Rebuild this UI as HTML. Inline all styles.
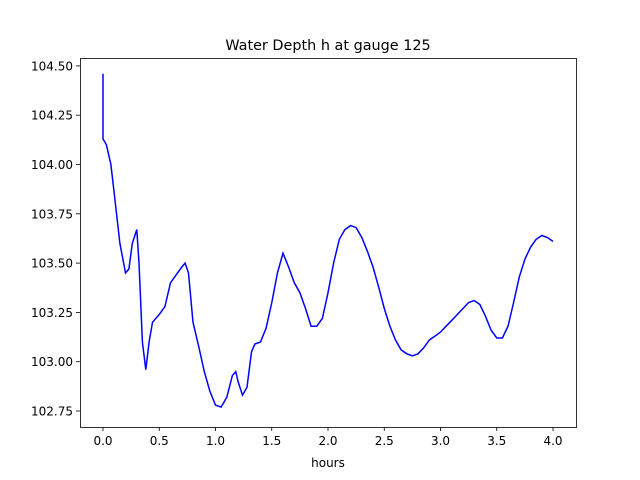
<!DOCTYPE html>
<html><head><meta charset="utf-8"><style>body{margin:0;background:#fff}svg{display:block;font-family:"DejaVu Sans","Liberation Sans",sans-serif}</style></head>
<body>
<svg id="chart" width="640" height="480">
<rect x="0" y="0" width="640" height="480" fill="#fff"/>
<text x="328" y="50" text-anchor="middle" font-size="14.4">Water Depth h at gauge 125</text>
<text x="328" y="467" text-anchor="middle" font-size="12">hours</text>
<g id="ticks"></g>
<path id="line" fill="none" stroke="#0000ff" stroke-width="1.5"/>
<rect x="80.5" y="58.5" width="496" height="369" fill="none" stroke="#000" stroke-width="0.8"/>
</svg>
<script>
const times=[0,0,0.03,0.07,0.1,0.15,0.2,0.23,0.26,0.3,0.32,0.35,0.38,0.41,0.44,0.5,0.55,0.6,0.65,0.7,0.73,0.76,0.8,0.85,0.9,0.95,1.0,1.05,1.1,1.15,1.18,1.2,1.24,1.28,1.32,1.35,1.4,1.45,1.5,1.55,1.6,1.65,1.7,1.75,1.8,1.85,1.9,1.95,2.0,2.05,2.1,2.15,2.2,2.25,2.3,2.35,2.4,2.45,2.5,2.55,2.6,2.65,2.7,2.75,2.8,2.85,2.9,2.95,3.0,3.05,3.1,3.15,3.2,3.25,3.3,3.35,3.4,3.45,3.5,3.55,3.6,3.65,3.7,3.75,3.8,3.85,3.9,3.95,4.0];
const depths=[104.46,104.13,104.10,104.0,103.85,103.6,103.45,103.47,103.6,103.67,103.5,103.1,102.96,103.1,103.2,103.24,103.28,103.4,103.44,103.48,103.5,103.45,103.2,103.08,102.95,102.85,102.78,102.77,102.82,102.93,102.95,102.9,102.83,102.87,103.05,103.09,103.1,103.17,103.3,103.45,103.55,103.48,103.4,103.35,103.27,103.18,103.18,103.22,103.35,103.5,103.62,103.67,103.69,103.68,103.63,103.56,103.48,103.38,103.27,103.18,103.11,103.06,103.04,103.03,103.04,103.07,103.11,103.13,103.15,103.18,103.21,103.24,103.27,103.3,103.31,103.29,103.23,103.16,103.12,103.12,103.18,103.3,103.43,103.52,103.58,103.62,103.64,103.63,103.61];
const xTicks=[0,0.5,1,1.5,2,2.5,3,3.5,4];
const xLabels=["0.0","0.5","1.0","1.5","2.0","2.5","3.0","3.5","4.0"];
const yTicks=[102.75,103,103.25,103.5,103.75,104,104.25,104.5];
const yLabels=["102.75","103.00","103.25","103.50","103.75","104.00","104.25","104.50"];
const X=t=>103+t*112.5;
const Y=v=>411-(v-102.75)*197.2;
const NS="http://www.w3.org/2000/svg";
const g=document.getElementById('ticks');
function mk(tag,a){const e=document.createElementNS(NS,tag);for(const k in a)e.setAttribute(k,a[k]);g.appendChild(e);return e;}
xTicks.forEach((t,i)=>{
 const l=mk('line',{x1:X(t),x2:X(t),y1:427,y2:431,stroke:'#000','stroke-width':0.8});
 
 
 const tx=mk('text',{x:X(t),y:445,'text-anchor':'middle','font-size':12});
 tx.textContent=xLabels[i];
 
 
});
yTicks.forEach((v,i)=>{
 const l=mk('line',{x1:76,x2:80,y1:Y(v),y2:Y(v),stroke:'#000','stroke-width':0.8});
 
 
 const tx=mk('text',{x:73,y:Y(v)+4.5,'text-anchor':'end','font-size':12});
 tx.textContent=yLabels[i];
 
 
});
document.getElementById('line').setAttribute('d',times.map((t,i)=>(i?'L':'M')+X(t).toFixed(1)+','+Y(depths[i]).toFixed(1)).join(''));
</script>
</body></html>
